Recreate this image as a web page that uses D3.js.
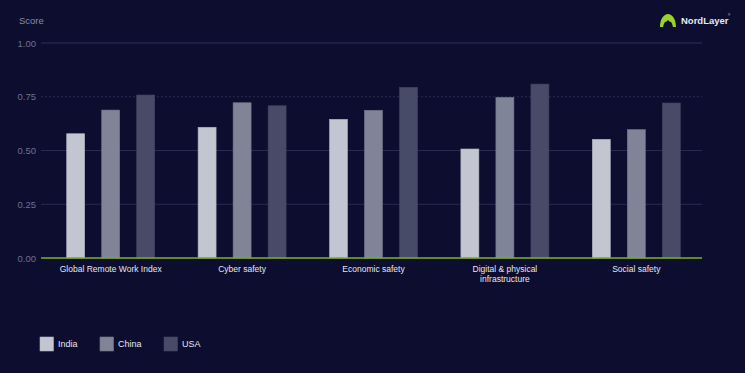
<!DOCTYPE html>
<html><head><meta charset="utf-8">
<script src="https://cdn.jsdelivr.net/npm/d3@7"></script>
<style>
html,body{margin:0;padding:0;background:#0d0d30;}
svg{display:block;font-family:"Liberation Sans",Arial,sans-serif;}
</style></head>
<body>
<script>
const categories = ["Global Remote Work Index","Cyber safety","Economic safety","Digital & physical infrastructure","Social safety"];
const categoryLines = [["Global Remote Work Index"],["Cyber safety"],["Economic safety"],["Digital & physical","infrastructure"],["Social safety"]];
const seriesNames = ["India","China","USA"];
const india = [0.578,0.608,0.645,0.507,0.552];
const china = [0.688,0.722,0.687,0.747,0.597];
const usa = [0.758,0.708,0.794,0.809,0.721];
const yTicks = [0,0.25,0.5,0.75,1];
const colors = ["#c3c5d1","#808497","#484b68"];

const W=745,H=373;
const svg=d3.select("body").append("svg").attr("width",W).attr("height",H);
svg.append("rect").attr("width",W).attr("height",H).attr("fill","#0d0d30");

const y=d3.scaleLinear().domain([0,1]).range([258,43]);
const x=d3.scaleBand().domain(categories).range([45,702]).paddingInner(0).paddingOuter(0);
const xs=d3.scaleBand().domain(seriesNames).range([-44,44]).paddingInner(0.486).paddingOuter(0);

// gridlines
yTicks.forEach(t=>{
  if(t===0) return;
  svg.append("line").attr("x1",41).attr("x2",702).attr("y1",y(t)).attr("y2",y(t))
    .attr("stroke", t===1?"#2f3058":"#2a2b52").attr("stroke-width",1)
    .attr("stroke-dasharray", t===0.75?"2,2":null);
});
// y tick labels
const yAxis=d3.axisLeft(y).tickValues(yTicks).tickFormat(d3.format(".2f")).tickSize(0).tickPadding(0);
const ga=svg.append("g").attr("transform","translate(36,0)").call(yAxis);
ga.select(".domain").remove();
ga.selectAll("text").attr("fill","#6d7090").attr("font-size","9.5px");

svg.append("text").attr("x",19).attr("y",24).attr("fill","#8a8ca6").attr("font-size","9.5px").text("Score");

// bars
const seriesData=[india,china,usa];
seriesData.forEach((vals,si)=>{
  svg.append("g").selectAll("rect").data(vals).join("rect")
    .attr("x",(d,i)=>x(categories[i])+x.bandwidth()/2+xs(seriesNames[si]))
    .attr("width",xs.bandwidth())
    .attr("y",d=>y(d))
    .attr("height",d=>y(0)-y(d))
    .attr("fill",colors[si])
    .attr("stroke",d3.color(colors[si]).darker(0.3))
    .attr("stroke-width",0.6);
});

// baseline
svg.append("line").attr("x1",41).attr("x2",702).attr("y1",y(0)).attr("y2",y(0))
  .attr("stroke","#7cb518").attr("stroke-width",1.5);

// category labels
categories.forEach((c,i)=>{
  const t=svg.append("text").attr("x",x(c)+x.bandwidth()/2).attr("y",272)
    .attr("text-anchor","middle").attr("fill","#e6e7ee").attr("font-size","8.5px");
  categoryLines[i].forEach((ln,j)=>{
    t.append("tspan").attr("x",x(c)+x.bandwidth()/2).attr("dy",j===0?0:"1.15em").text(ln);
  });
});

// legend
const legX=[40,100,164];
seriesNames.forEach((s,i)=>{
  svg.append("rect").attr("x",legX[i]).attr("y",337).attr("width",13.5).attr("height",14)
    .attr("fill",colors[i]).attr("stroke",d3.color(colors[i]).darker(0.3)).attr("stroke-width",0.6);
  svg.append("text").attr("x",legX[i]+18).attr("y",347).attr("fill","#e6e7ee")
    .attr("font-size","9px").text(s);
});

// logo
const lg=svg.append("g").attr("transform","translate(660,14)");
lg.append("path").attr("d","M0,13 C0,5 4,0 8,0 C12,0 16,5 16,13 L13,13 C12,9 11,7 10,8 L8,6 L6,8 C5,7 4,9 3,13 Z").attr("fill","#9bd22a");
svg.append("text").attr("x",681).attr("y",24).attr("fill","#e8e9f0").attr("font-size","9.5px")
  .attr("font-weight","bold").text("NordLayer");
svg.append("text").attr("x",728).attr("y",16).attr("fill","#e8e9f0").attr("font-size","3px").text("®");
</script>
</body></html>
